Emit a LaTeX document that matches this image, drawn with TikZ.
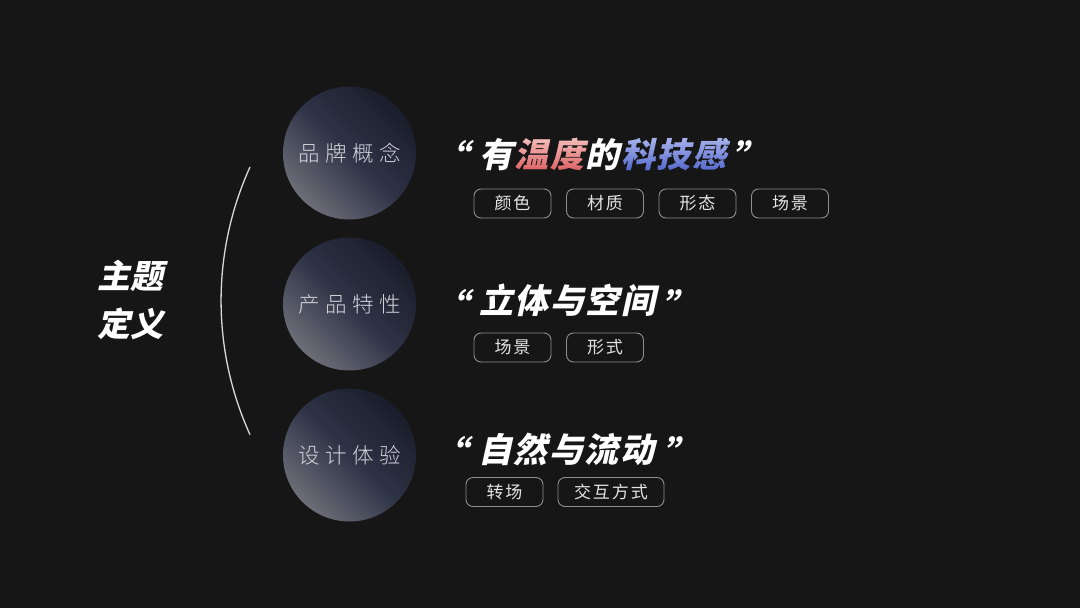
\documentclass[tikz,border=0pt]{standalone}
\usepackage{fontspec}
\newfontfamily\cjklight{Noto Sans CJK SC Light}
\newfontfamily\cjkreg{Noto Sans CJK SC}
\newfontfamily\cjkblack[FakeSlant=0.22]{Noto Sans CJK SC Black}
\definecolor{bg}{HTML}{161616}
\definecolor{circlight}{HTML}{6C6D77}
\definecolor{circmid}{HTML}{2E3346}
\definecolor{circdark}{HTML}{1A1D2B}
\definecolor{warmtop}{HTML}{F5C4C1}
\definecolor{warmbot}{HTML}{E0686A}
\definecolor{cooltop}{HTML}{ADB8EE}
\definecolor{coolbot}{HTML}{5B6FD0}
\definecolor{tagline}{HTML}{8E8E8E}
\definecolor{tagtext}{HTML}{E4E4E4}
\definecolor{circtext}{HTML}{D2D4DA}
\newcommand{\cgap}{\hspace{5.6pt}}
\newcommand{\tgap}{\hspace{2pt}}
\newcommand{\hgap}{\hspace{1.5pt}}
\newcommand{\headfont}{\cjkblack\fontsize{34}{36}\selectfont}
\begin{document}
\begin{tikzpicture}[x=1pt,y=-1pt,
  bubble/.style={circle, minimum size=133pt, inner sep=0pt,
    top color=circdark, bottom color=circlight, middle color=circmid,
    shading angle=-45, text=circtext, font=\cjklight\fontsize{21.5}{22}\selectfont},
  tag/.style={draw=tagline, line width=0.9pt, rounded corners=7pt,
    minimum width=77pt, minimum height=29pt, inner sep=0pt,
    text=tagtext, font=\cjkreg\fontsize{17}{18}\selectfont},
  headline/.style={anchor=base west, inner sep=0pt, text=white, font=\headfont},
  openq/.style={anchor=base east, inner sep=0pt, text=white,
    font=\cjkblack\fontsize{36}{38}\selectfont},
  closeq/.style={anchor=base west, inner sep=0pt, text=white,
    font=\cjkblack\fontsize{36}{38}\selectfont},
  theme/.style={anchor=base west, inner sep=0pt, text=white,
    font=\cjkblack\fontsize{33}{35}\selectfont}]
\fill[bg] (0,0) rectangle (1080,608);
\useasboundingbox (0,0) rectangle (1080,608);

% left title
\node[theme] (th1) at (97,288) {主题};
\node[theme] (th2) at (97,336) {定义};

% arc
\coordinate (arcT) at (250,167);
\coordinate (arcB) at (250,435);
\draw[white!85!black, line width=1.3pt] (arcT) arc[start angle=204.4, end angle=155.6, radius=324];

% circles
\node[bubble] (c1) at (349.5,153) {品\cgap 牌\cgap 概\cgap 念};
\node[bubble] (c2) at (349.5,304) {产\cgap 品\cgap 特\cgap 性};
\node[bubble] (c3) at (349.5,455) {设\cgap 计\cgap 体\cgap 验};

% row 1
\node[openq] (q1a) at (469,171) {“};
\node[headline] (h1) at (479,167)
  {有\hgap\phantom{温\hgap 度}\hgap 的\hgap\phantom{科\hgap 技\hgap 感}};
% vertical colour gradient of the coloured words, drawn in thin bands
\foreach \i in {0,...,9}{
  \pgfmathsetmacro{\ya}{\i==0 ? 120 : 135+\i*3.6}
  \pgfmathsetmacro{\yb}{\i==9 ? 185 : 135+(\i+1)*3.6}
  \pgfmathtruncatemacro{\pct}{100-\i*100/9}
  \begin{scope}
    \clip (470,\ya) rectangle (760,\yb);
    \node[headline] (h1band\i) at (479,167)
      {\phantom{有\hgap}\textcolor{warmtop!\pct!warmbot}{温\hgap 度}\hgap\phantom{的\hgap}\textcolor{cooltop!\pct!coolbot}{科\hgap 技\hgap 感}};
  \end{scope}
}
\node[closeq] (q1b) at (731,171) {”};
\node[tag] (t11) at (512.5,203.5) {颜\tgap 色};
\node[tag] (t12) at (605,203.5) {材\tgap 质};
\node[tag] (t13) at (697.5,203.5) {形\tgap 态};
\node[tag] (t14) at (790,203.5) {场\tgap 景};

% row 2
\node[openq] (q2a) at (469,320) {“};
\node[headline] (h2) at (479,313) {立\hgap 体\hgap 与\hgap 空\hgap 间};
\node[closeq] (q2b) at (661,320) {”};
\node[tag] (t21) at (512.5,347.5) {场\tgap 景};
\node[tag] (t22) at (605,347.5) {形\tgap 式};

% row 3
\node[openq] (q3a) at (468,467) {“};
\node[headline] (h3) at (478,462) {自\hgap 然\hgap 与\hgap 流\hgap 动};
\node[closeq] (q3b) at (662,467) {”};
\node[tag] (t31) at (504.5,492) {转\tgap 场};
\node[tag, minimum width=106pt] (t32) at (611,492) {交\tgap 互\tgap 方\tgap 式};
\end{tikzpicture}
\end{document}
